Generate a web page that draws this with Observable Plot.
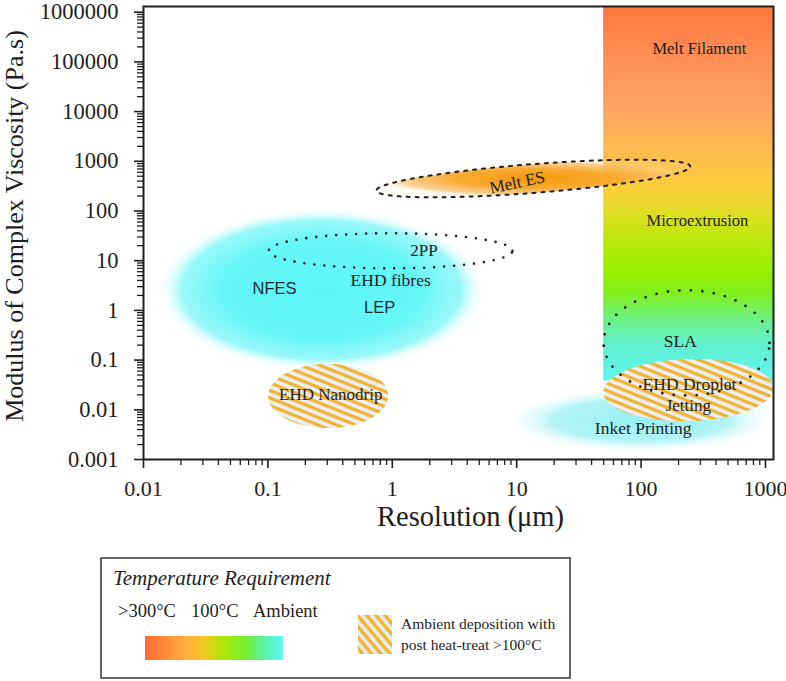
<!DOCTYPE html>
<html>
<head>
<meta charset="utf-8">
<script src="https://cdn.jsdelivr.net/npm/d3@7"></script>
<script src="https://cdn.jsdelivr.net/npm/@observablehq/plot@0.6"></script>
<style>
  body { margin: 0; background: #fff; }
  #wrap { width: 786px; height: 681px; position: relative; overflow: hidden; }
  svg { display: block; }
</style>
</head>
<body>
<div id="wrap"></div>
<script>
// ---------- data ----------
const xTicks = [0.01, 0.1, 1, 10, 100, 1000];
const xTickLabels = ["0.01", "0.1", "1", "10", "100", "1000"];
const yTicks = [0.001, 0.01, 0.1, 1, 10, 100, 1000, 10000, 100000, 1000000];
const yTickLabels = ["0.001", "0.01", "0.1", "1", "10", "100", "1000", "10000", "100000", "1000000"];
const xDomain = [0.01, 1160];
const yDomain = [0.001, 1.3e6];

// process regions: centre (µm, Pa.s), half-extent in decades, tilt (decades y per decade x)
const shapeNames   = ["Fibre processes", "Melt ES", "2PP", "EHD Nanodrip", "SLA", "EHD Droplet", "Inket Printing"];
const shapeCenterX = [0.27, 13.6, 0.97, 0.305, 232, 240, 98.9];
const shapeCenterY = [2.6, 450, 15.8, 0.019, 0.222, 0.025, 0.0062];
const shapeHalfX   = [1.32, 1.262, 0.98, 0.482, 0.667, 0.683, 1.0];
const shapeHalfY   = [1.64, 0.29, 0.353, 0.645, 1.058, 0.625, 0.6];
const shapeTilt    = [0, 0.192, 0, 0, 0, 0.06, 0];
const shapePower   = [3.4, 2, 2, 2, 2, 2, 2];

// temperature band (Melt Filament → Microextrusion)
const bandX = [50, 1160];
const bandY = [0.038, 1.3e6];

// labels
const serifLabels = ["Melt Filament", "Microextrusion", "2PP", "EHD fibres", "EHD Nanodrip", "SLA", "EHD Droplet", "Jetting", "Inket Printing"];
const serifLabelX = [294, 284, 1.8, 0.97, 0.32, 207, 245, 240, 104];
const serifLabelY = [188000, 64, 15.9, 3.95, 0.02, 0.24, 0.033, 0.012, 0.0043];
const serifLabelSize = [16.5, 16.5, 17, 17.5, 17, 17.5, 17.5, 17, 17.5];
const sansLabels = ["NFES", "LEP"];
const sansLabelX = [0.113, 0.79];
const sansLabelY = [2.7, 1.13];
const meltESLabel = ["Melt ES"];
const meltESLabelX = [10.1];
const meltESLabelY = [374];

const legendTemps = [">300°C", "100°C", "Ambient"];

// ---------- helpers ----------
function outline(i, n = 160) {
  const lx = Math.log10(shapeCenterX[i]), ly = Math.log10(shapeCenterY[i]);
  const p = shapePower[i];
  const pts = [];
  for (let k = 0; k < n; k++) {
    const t = 2 * Math.PI * k / n;
    const c = Math.cos(t), s = Math.sin(t);
    const ux = Math.sign(c) * Math.pow(Math.abs(c), 2 / p);
    const uy = Math.sign(s) * Math.pow(Math.abs(s), 2 / p);
    const dx = shapeHalfX[i] * ux;
    pts.push({x: 10 ** (lx + dx), y: 10 ** (ly + shapeHalfY[i] * uy + shapeTilt[i] * dx), name: shapeNames[i]});
  }
  return pts;
}
const shapeMark = (i, opts) => Plot.line(outline(i), {x: "x", y: "y", curve: "linear-closed", clip: true, ...opts});

const yMinor = d3.scaleLog().domain([0.001, 1e6]).ticks().filter(d => !yTicks.includes(d));
const xMinor = d3.scaleLog().domain([0.01, 1000]).ticks().filter(d => !xTicks.includes(d));

const ink = "#1e1e1e";

// ---------- chart ----------
const chart = Plot.plot({
  width: 786,
  height: 535,
  marginLeft: 143,
  marginRight: 13,
  marginTop: 6,
  marginBottom: 76,
  style: {fontFamily: "'Liberation Serif', 'Times New Roman', serif", fontSize: "22px", color: ink, background: "#fff"},
  x: {type: "log", domain: xDomain},
  y: {type: "log", domain: yDomain},
  marks: [
    shapeMark(0, {fill: "url(#gCyanBlob)", stroke: "none"}),
    Plot.rect([{x1: bandX[0], x2: bandX[1], y1: bandY[0], y2: bandY[1]}], {x1: "x1", x2: "x2", y1: "y1", y2: "y2", fill: "url(#gTemp)", clip: true}),
    shapeMark(1, {fill: "url(#gMeltES)", stroke: "none"}),
    shapeMark(1, {fill: "none", stroke: ink, strokeWidth: 2, strokeDasharray: "3,6"}),
    shapeMark(2, {fill: "none", stroke: ink, strokeWidth: 2.6, strokeLinecap: "round", strokeDasharray: "0,10"}),
    shapeMark(6, {fill: "url(#gInk)", stroke: "none"}),
    shapeMark(5, {fill: "url(#hatch)", stroke: "none"}),
    shapeMark(4, {fill: "none", stroke: ink, strokeWidth: 2.8, strokeLinecap: "round", strokeDasharray: "0,11.5"}),
    shapeMark(3, {fill: "url(#hatch)", stroke: "none"}),
    Plot.text(serifLabels, {x: (d, i) => serifLabelX[i], y: (d, i) => serifLabelY[i], text: d => d, fontSize: (d, i) => serifLabelSize[i], fill: ink}),
    Plot.text(sansLabels, {x: (d, i) => sansLabelX[i], y: (d, i) => sansLabelY[i], text: d => d, fontSize: 16.5, fontFamily: "'Liberation Sans', Arial, sans-serif", fill: "#1a2a2e"}),
    Plot.text(meltESLabel, {x: (d, i) => meltESLabelX[i], y: (d, i) => meltESLabelY[i], text: d => d, fontSize: 17, rotate: -12, fill: ink}),
    Plot.axisY(yMinor, {tickSize: 6, tickFormat: () => "", stroke: ink, strokeWidth: 1.3, label: null}),
    Plot.axisY(yTicks, {tickSize: 9, tickPadding: 16, fontSize: 22.5, stroke: ink, strokeWidth: 1.6, fill: ink, tickFormat: d => yTickLabels[yTicks.indexOf(d)], label: null}),
    Plot.axisX(xMinor, {tickSize: 6, tickFormat: () => "", stroke: ink, strokeWidth: 1.3, label: null}),
    Plot.axisX(xTicks, {tickSize: 9, tickPadding: 12, fontSize: 22, stroke: ink, strokeWidth: 1.6, fill: ink, tickFormat: d => xTickLabels[xTicks.indexOf(d)], label: null}),
    Plot.text(["Resolution (μm)"], {frameAnchor: "bottom", textAnchor: "middle", lineAnchor: "middle", dx: 12, dy: 57, fontSize: 28.5, fill: ink}),
    Plot.text(["Modulus of Complex Viscosity (Pa.s)"], {frameAnchor: "left", textAnchor: "middle", lineAnchor: "middle", rotate: -90, dx: -129, dy: -7, fontSize: 26, fill: ink}),
    Plot.frame({stroke: ink, strokeWidth: 2})
  ]
});

const defs = d3.select(chart).insert("defs", ":first-child");
function radial(id, stops) {
  const g = defs.append("radialGradient").attr("id", id).attr("cx", "50%").attr("cy", "50%").attr("r", "50%");
  stops.forEach(([o, c, a]) => g.append("stop").attr("offset", o).attr("stop-color", c).attr("stop-opacity", a));
}
radial("gCyanBlob", [[0, "#5cf6f8", 1], [0.6, "#60f6f8", 0.97], [0.85, "#7ef6f8", 0.78], [1, "#ffffff", 0]]);
radial("gMeltES", [[0, "#f59a0c", 1], [0.5, "#f7a626", 0.95], [0.85, "#fbc070", 0.75], [1, "#ffe6c0", 0.15]]);
radial("gInk", [[0, "#94f0f5", 1], [0.7, "#acf2f6", 0.92], [1, "#e8fcfd", 0.3]]);
const lg = defs.append("linearGradient").attr("id", "gTemp").attr("x1", 0).attr("y1", 0).attr("x2", 0).attr("y2", 1);
[[0, "#ff773c"], [0.1, "#ff8850"], [0.255, "#ffa065"], [0.415, "#ffc048"], [0.495, "#f8d038"], [0.56, "#dce020"],
 [0.64, "#b4ea08"], [0.71, "#96f000"], [0.77, "#80f020"], [0.84, "#6cf08c"], [0.907, "#60f0d0"], [1, "#62f6f2"]]
  .forEach(([o, c]) => lg.append("stop").attr("offset", o).attr("stop-color", c));
const pat = defs.append("pattern").attr("id", "hatch").attr("patternUnits", "userSpaceOnUse")
  .attr("width", 7).attr("height", 7).attr("patternTransform", "rotate(22)");
pat.append("rect").attr("width", 7).attr("height", 7).attr("fill", "#eaeff0");
pat.append("rect").attr("width", 7).attr("height", 3.2).attr("fill", "#f1b232");

document.getElementById("wrap").appendChild(chart);

// ---------- legend ----------
const leg = d3.select("#wrap").append("svg").attr("width", 786).attr("height", 146)
  .style("font-family", "'Liberation Serif', 'Times New Roman', serif");
const ldefs = leg.append("defs");
const lg2 = ldefs.append("linearGradient").attr("id", "gTempLegend");
[[0, "#ff6a34"], [0.3, "#ffb040"], [0.42, "#f4c420"], [0.56, "#aee808"], [0.72, "#78ee2a"], [0.86, "#5cf0a8"], [1, "#60f8f6"]]
  .forEach(([o, c]) => lg2.append("stop").attr("offset", o).attr("stop-color", c));
const pat2 = ldefs.append("pattern").attr("id", "hatchLegend").attr("patternUnits", "userSpaceOnUse")
  .attr("width", 7).attr("height", 7).attr("patternTransform", "rotate(50)");
pat2.append("rect").attr("width", 7).attr("height", 7).attr("fill", "#e8eded");
pat2.append("rect").attr("width", 7).attr("height", 3.4).attr("fill", "#f1b22c");

leg.append("rect").attr("x", 101).attr("y", 23).attr("width", 469).attr("height", 120)
  .attr("fill", "none").attr("stroke", "#333").attr("stroke-width", 1.5);
leg.append("text").attr("x", 113).attr("y", 50).attr("font-size", 21).attr("font-style", "italic").attr("fill", ink)
  .text("Temperature Requirement");
const tempX = [118, 191, 253];
legendTemps.forEach((t, i) => leg.append("text").attr("x", tempX[i]).attr("y", 82).attr("font-size", 18.5).attr("fill", ink).text(t));
leg.append("rect").attr("x", 145).attr("y", 101).attr("width", 138).attr("height", 24).attr("fill", "url(#gTempLegend)");
leg.append("rect").attr("x", 358).attr("y", 80).attr("width", 34).attr("height", 39).attr("fill", "url(#hatchLegend)");
leg.append("text").attr("x", 401).attr("y", 94).attr("font-size", 15.5).attr("fill", ink).text("Ambient deposition with");
leg.append("text").attr("x", 401).attr("y", 115).attr("font-size", 15.5).attr("fill", ink).text("post heat-treat >100°C");
</script>
</body>
</html>
